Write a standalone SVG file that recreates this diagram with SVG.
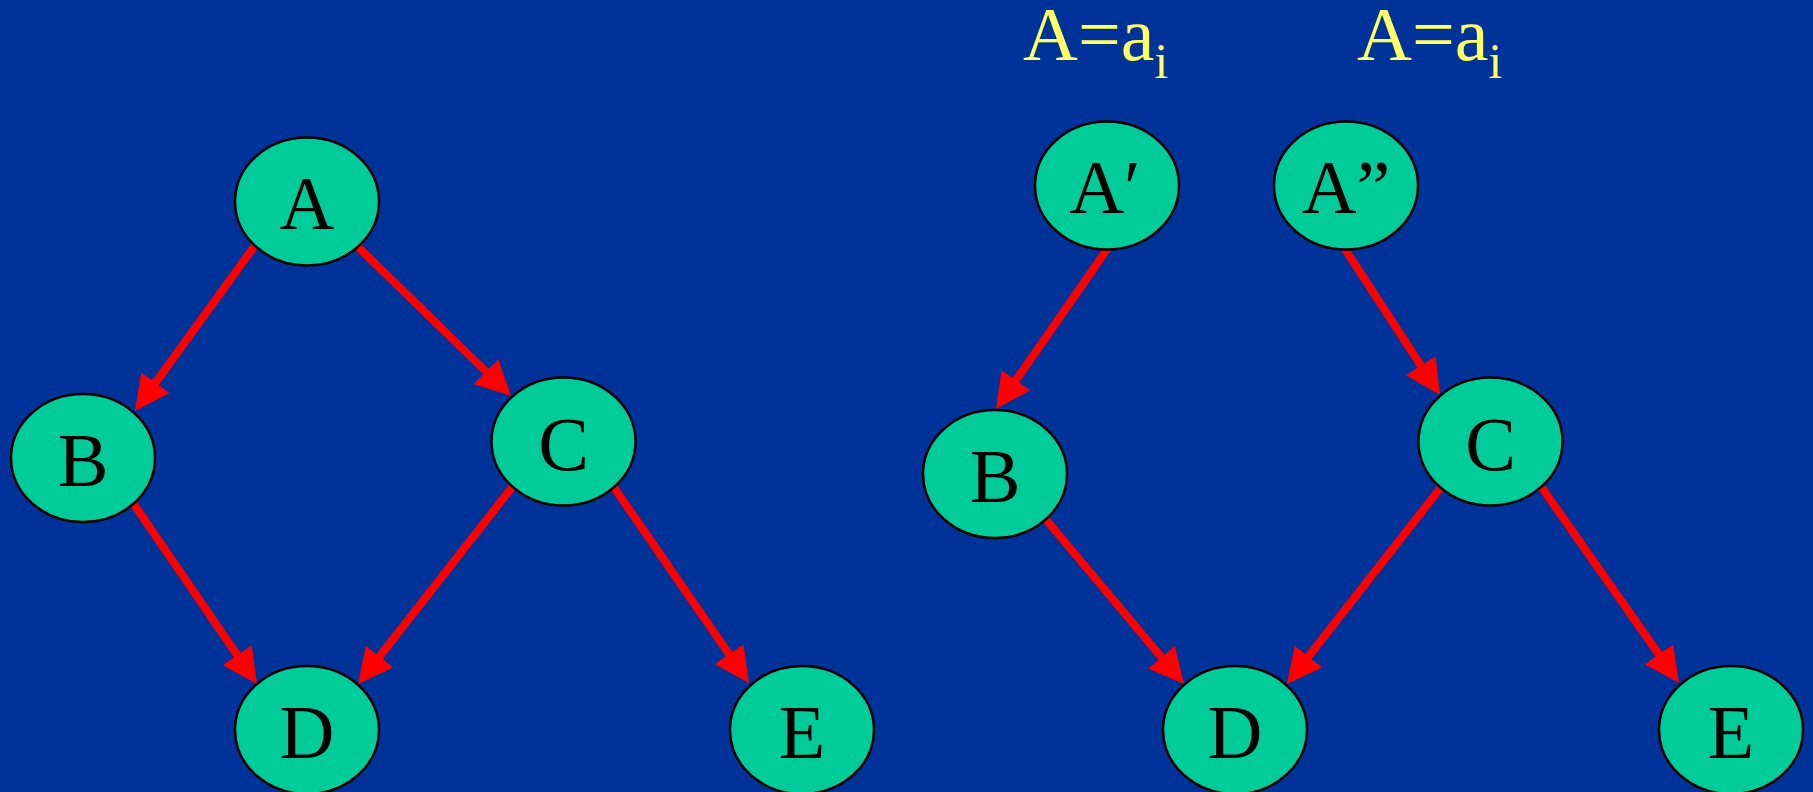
<svg xmlns="http://www.w3.org/2000/svg" width="1813" height="792" viewBox="0 0 1813 792">
<style>
.node ellipse{fill:#00CC99;stroke:#000;stroke-width:2.5}
.node text{font-family:"Liberation Serif","Times New Roman",serif;font-size:76px;fill:#000;text-anchor:middle}
.conn line{stroke:#FF0000;stroke-width:8;fill:none;marker-end:url(#arr)}
.lbl{font-family:"Liberation Serif","Times New Roman",serif;font-size:76px;fill:#FFFF66}
</style>
<defs>
<marker id="arr" markerUnits="userSpaceOnUse" viewBox="0 0 35 35" markerWidth="35" markerHeight="35" refX="15" refY="17.5" orient="auto">
<path d="M0,0 L35,17.5 L0,35 z" fill="#FF0000"/>
</marker>
</defs>
<rect x="0" y="0" width="1813" height="792" fill="#003399"/>
<g id="connectors" class="conn">
<line x1="256" y1="244" x2="146.7" y2="394.8"/>
<line x1="356" y1="245" x2="496.7" y2="382"/>
<line x1="131" y1="500" x2="245.7" y2="667.5"/>
<line x1="513" y1="486" x2="370.3" y2="668.3"/>
<line x1="613" y1="486" x2="737.6" y2="666.5"/>
<line x1="1108" y1="248" x2="1007.4" y2="392.6"/>
<line x1="1345" y1="249" x2="1429.1" y2="378.2"/>
<line x1="1043" y1="516" x2="1171.1" y2="668.7"/>
<line x1="1442" y1="486" x2="1299.3" y2="668.3"/>
<line x1="1540" y1="485" x2="1667.5" y2="666.6"/>
</g>
<g id="label1"><text class="lbl" x="1023" y="60">A=a<tspan font-size="50" dy="18">i</tspan></text></g>
<g id="label2"><text class="lbl" x="1357" y="60">A=a<tspan font-size="50" dy="18">i</tspan></text></g>
<g id="nodeA" class="node"><ellipse cx="307" cy="201.5" rx="72" ry="64"/><text x="307" y="229">A</text></g>
<g id="nodeB" class="node"><ellipse cx="83" cy="458" rx="72" ry="64"/><text x="83" y="485.5">B</text></g>
<g id="nodeC" class="node"><ellipse cx="563.5" cy="441.5" rx="72" ry="64"/><text x="563.5" y="470">C</text></g>
<g id="nodeD" class="node"><ellipse cx="307" cy="730" rx="72" ry="64"/><text x="307" y="758">D</text></g>
<g id="nodeE" class="node"><ellipse cx="802" cy="730" rx="72" ry="64"/><text x="802" y="758">E</text></g>
<g id="nodeA1" class="node"><ellipse cx="1107" cy="185.5" rx="72" ry="64"/><text x="1105" y="213">A′</text></g>
<g id="nodeA2" class="node"><ellipse cx="1346" cy="185.5" rx="72" ry="64"/><text x="1346" y="213">A”</text></g>
<g id="nodeB2" class="node"><ellipse cx="995" cy="474" rx="72" ry="64"/><text x="995" y="502">B</text></g>
<g id="nodeC2" class="node"><ellipse cx="1490.5" cy="441.5" rx="72" ry="64"/><text x="1490.5" y="470">C</text></g>
<g id="nodeD2" class="node"><ellipse cx="1235" cy="730" rx="72" ry="64"/><text x="1235" y="758">D</text></g>
<g id="nodeE2" class="node"><ellipse cx="1731" cy="730" rx="72" ry="64"/><text x="1731" y="758">E</text></g>
</svg>
